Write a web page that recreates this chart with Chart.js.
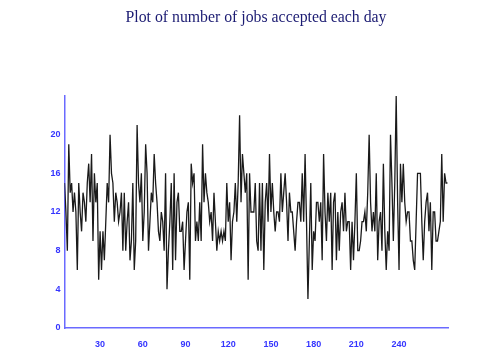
<!DOCTYPE html>
<html>
<head>
<meta charset="utf-8">
<script src="https://cdn.jsdelivr.net/npm/chart.js@4.4.1/dist/chart.umd.min.js"></script>
<style>
  html, body { margin: 0; padding: 0; background: #ffffff; }
  #wrap { position: relative; width: 493px; height: 355px; }
  #title { position: absolute; left: 0; width: 512px; top: 8px; text-align: center;
           font-family: "Liberation Serif", "Times New Roman", serif; font-size: 15.8px;
           color: #1b1b72; line-height: 18px; white-space: nowrap; }
  canvas { position: absolute; left: 0; top: 0; }
</style>
</head>
<body>
<div id="wrap">
  <canvas id="c" width="493" height="355"></canvas>
  <div id="title">Plot of number of jobs accepted each day</div>
</div>
<script>
// First day plotted and jobs accepted per day
const firstDay = 5;
const jobsAccepted = [
  // days 5-37
  15,12,8,19,14,15,12,14,12,6,15,12,10,14,13,11,15,17,13,18,9,16,13,15,5,10,6,10,7,11,15,13,20,
  // days 38-74
  16,15,11,14,13,11,12,14,8,14,8,11,13,7,9,15,6,9,21,15,13,16,9,12,19,16,8,11,14,13,18,15,13,10,9,12,11,
  // days 75-110
  8,16,4,8,11,15,6,16,7,13,14,10,10,11,6,9,12,13,5,17,15,16,9,11,9,13,9,19,13,16,14,13,11,12,9,14,
  // days 111-145
  11,8,10,9,10,9,10,9,15,11,13,7,11,12,15,11,15,22,13,18,16,14,16,5,16,12,12,12,15,9,8,15,8,15,6,
  // days 146-180
  13,15,11,18,12,15,12,10,12,12,11,16,12,14,16,13,9,14,12,12,10,8,11,13,13,11,16,11,18,11,3,9,15,6,10,
  // days 181-210
  9,13,13,11,13,7,18,12,9,14,11,14,6,13,14,7,12,8,12,13,10,14,10,11,11,6,11,7,11,16,
  // days 211-243
  8,8,9,11,11,12,10,14,20,13,10,12,10,16,7,11,12,8,17,10,6,10,8,20,15,9,15,24,13,6,17,13,17,
  // days 244-274
  13,11,12,12,9,9,7,6,11,16,16,16,11,7,11,13,14,10,13,6,12,12,9,9,10,11,18,11,16,15,15
];
const xTickLabels = [30, 60, 90, 120, 150, 180, 210, 240];
const yTickLabels = [0, 4, 8, 12, 16, 20];

const points = jobsAccepted.map((v, i) => ({ x: firstDay + i, y: v }));

const axisBlue = '#6a6aff';
const labelBlue = '#3535ff';
const tickFont = { family: 'Liberation Sans, Arial, sans-serif', size: 9, weight: 'bold' };

new Chart(document.getElementById('c'), {
  type: 'line',
  data: {
    datasets: [{
      data: points,
      borderColor: '#1a1a1a',
      borderWidth: 1.3,
      pointRadius: 0,
      tension: 0,
      fill: false
    }]
  },
  options: {
    responsive: false,
    devicePixelRatio: 1,
    animation: false,
    layout: { padding: { left: 0, right: 44.7, top: 96, bottom: 0 } },
    plugins: { legend: { display: false }, tooltip: { enabled: false }, title: { display: false } },
    scales: {
      x: {
        type: 'linear',
        min: 5,
        max: 274.6,
        grid: { display: false, drawTicks: false },
        border: { display: true, color: axisBlue, width: 1.5 },
        afterBuildTicks: (s) => { s.ticks = xTickLabels.map(v => ({ value: v })); },
        afterFit: (s) => { s.height = 27; },
        ticks: { color: labelBlue, font: tickFont, padding: 11, maxRotation: 0, autoSkip: false }
      },
      y: {
        type: 'linear',
        min: 0,
        max: 24,
        grid: { display: false, drawTicks: false },
        border: { display: true, color: axisBlue, width: 1.5 },
        afterBuildTicks: (s) => { s.ticks = yTickLabels.map(v => ({ value: v })); },
        afterFit: (s) => { s.width = 64.5; },
        ticks: { color: labelBlue, font: tickFont, padding: 4, autoSkip: false }
      }
    }
  }
});
</script>
</body>
</html>
